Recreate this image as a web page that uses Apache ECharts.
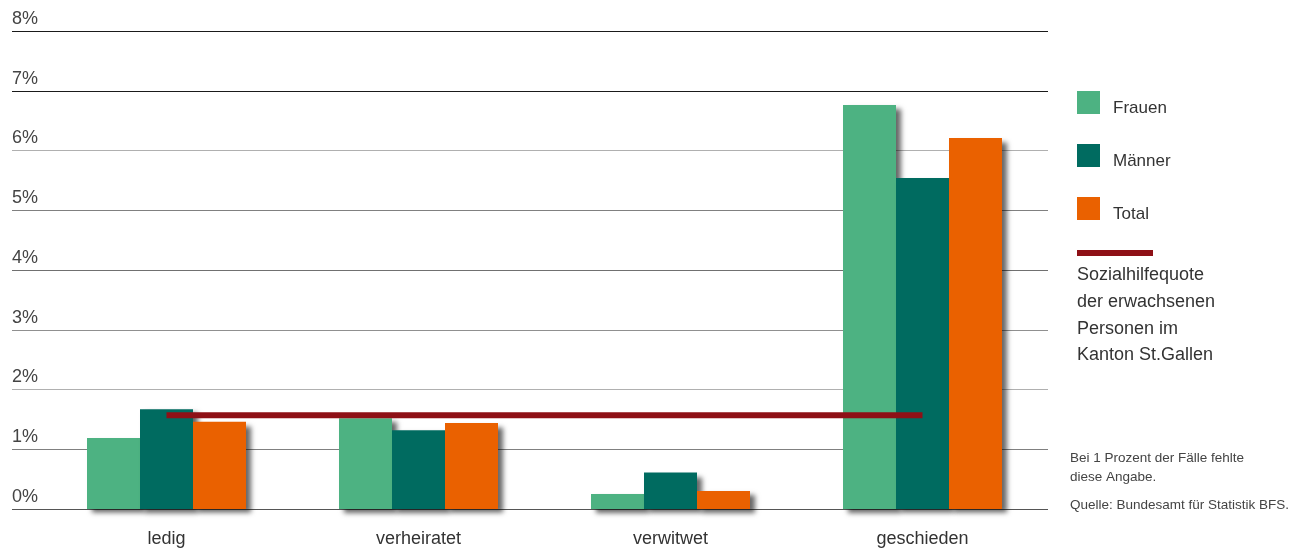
<!DOCTYPE html>
<html>
<head>
<meta charset="utf-8">
<script src="https://cdn.jsdelivr.net/npm/echarts@6/dist/echarts.min.js"></script>
<style>
html,body{margin:0;padding:0;background:#fff;}
#chart{width:1301px;height:552px;}
</style>
</head>
<body>
<div id="chart"></div>
<script>
const categories = ['ledig', 'verheiratet', 'verwitwet', 'geschieden'];
const frauen = [1.19, 1.52, 0.25, 6.76];
const maenner = [1.67, 1.32, 0.61, 5.54];
const total = [1.46, 1.44, 0.30, 6.21];
const quote = [1.57, 1.57, 1.57, 1.57];
const yTicks = [0, 1, 2, 3, 4, 5, 6, 7, 8];
const lineLegendText = 'Sozialhilfequote\nder erwachsenen\nPersonen im\nKanton St.Gallen';
const footnote1 = 'Bei 1 Prozent der Fälle fehlte\ndiese Angabe.';
const footnote2 = 'Quelle: Bundesamt für Statistik BFS.';

const FONT = '"Liberation Sans", Arial, sans-serif';
const barShadow = {shadowColor:'rgba(0,0,0,0.6)', shadowBlur:5, shadowOffsetX:5, shadowOffsetY:4};

const chart = echarts.init(document.getElementById('chart'), null, {renderer:'canvas'});
chart.setOption({
  animation:false,
  textStyle:{fontFamily:FONT},
  grid:[
    {left:12, right:253, top:31, bottom:43},
    {left:40.5, right:252.5, top:31, bottom:43}
  ],
  xAxis:[
    {gridIndex:0, type:'value', show:false, min:0, max:1},
    {gridIndex:1, type:'category', data:categories,
     axisLine:{show:false}, axisTick:{show:false},
     axisLabel:{fontSize:18, color:'#333', margin:21, fontFamily:FONT}}
  ],
  yAxis:[
    {gridIndex:0, type:'value', min:yTicks[0], max:yTicks[yTicks.length-1], interval:1,
     axisLine:{show:false}, axisTick:{show:false},
     axisLabel:{inside:true, margin:0, fontSize:18, color:'#444', fontFamily:FONT,
       verticalAlign:'bottom', lineHeight:18, padding:[0,0,3,0],
       formatter:function(v){return v + '%';}},
     splitLine:{show:true, lineStyle:{width:1,
       color:['#555','#808080','#b0b0b0','#909090','#707070','#808080','#b0b0b0','#1a1a1a','#1a1a1a']}}},
    {gridIndex:1, type:'value', min:0, max:8, interval:1, show:false, splitLine:{show:false}}
  ],
  legend:{
    orient:'vertical', left:1077, top:91, padding:0,
    itemWidth:23, itemHeight:23, itemGap:27.5, icon:'rect',
    data:['Frauen','Männer','Total'],
    itemStyle:{shadowBlur:0, shadowOffsetX:0, shadowOffsetY:0, shadowColor:'transparent'},
    formatter:'{t|{name}}',
    textStyle:{fontSize:17, color:'#333', fontFamily:FONT,
      rich:{t:{fontSize:17, color:'#333', fontFamily:FONT, padding:[11,0,0,8]}}}
  },
  graphic:[
    {type:'rect', left:1077, top:250, shape:{width:76, height:6}, style:{fill:'#8e1016'}},
    {type:'text', left:1077, top:262, style:{text:lineLegendText, fontSize:18, lineHeight:26.7, fill:'#333', font:'18px ' + FONT}},
    {type:'text', left:1070, top:449, style:{text:footnote1, fontSize:13.5, lineHeight:19, fill:'#444', font:'13.5px ' + FONT}},
    {type:'text', left:1070, top:496, style:{text:footnote2, fontSize:13.5, lineHeight:19, fill:'#444', font:'13.5px ' + FONT}}
  ],
  series:[
    {name:'Frauen', type:'bar', xAxisIndex:1, yAxisIndex:1, data:frauen, barWidth:53, barGap:'0%',
     itemStyle:Object.assign({color:'#4db282'}, barShadow)},
    {name:'Männer', type:'bar', xAxisIndex:1, yAxisIndex:1, data:maenner, barWidth:53, barGap:'0%',
     itemStyle:Object.assign({color:'#006b60'}, barShadow)},
    {name:'Total', type:'bar', xAxisIndex:1, yAxisIndex:1, data:total, barWidth:53, barGap:'0%',
     itemStyle:Object.assign({color:'#ea6100'}, barShadow)},
    {name:'Sozialhilfequote der erwachsenen Personen im Kanton St.Gallen', type:'line',
     xAxisIndex:1, yAxisIndex:1, data:quote, showSymbol:false, symbol:'none', z:5,
     lineStyle:{color:'#8e1016', width:6}}
  ]
});
</script>
</body>
</html>
